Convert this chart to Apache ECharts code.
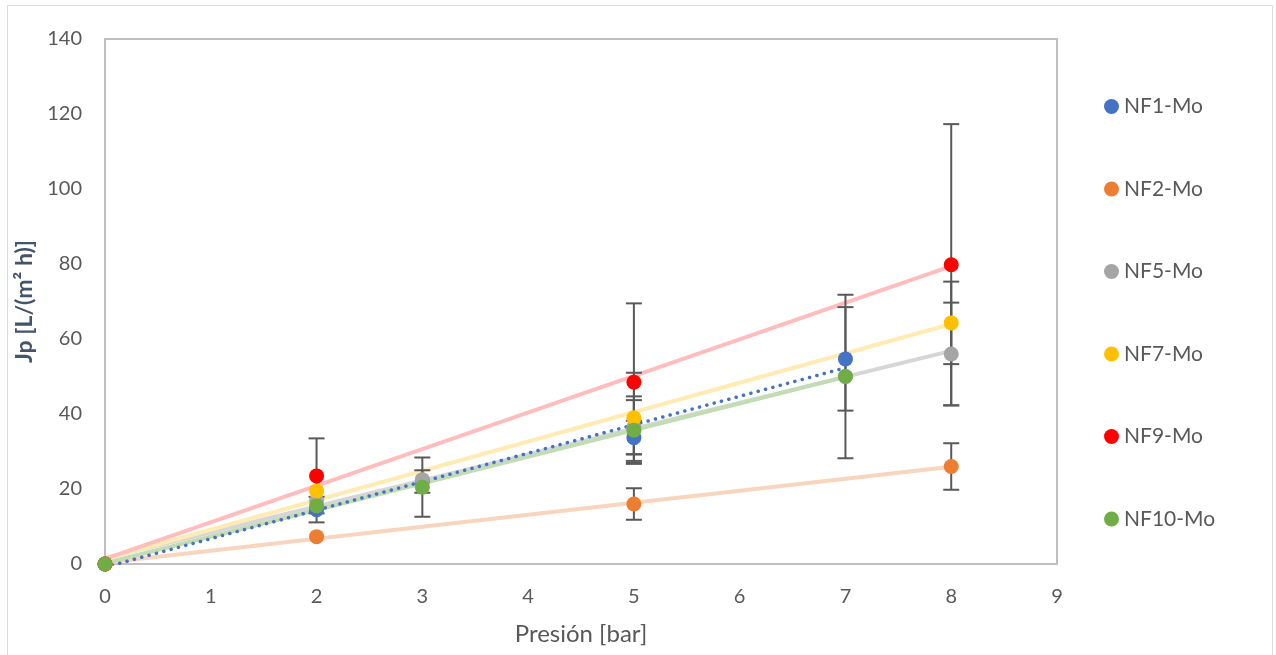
<!DOCTYPE html>
<html>
<head>
<meta charset="utf-8">
<script src="https://cdn.jsdelivr.net/npm/echarts@6/dist/echarts.min.js"></script>
<style>
  html, body { margin: 0; padding: 0; background: #fff; }
  #chart { width: 1276px; height: 655px; }
</style>
</head>
<body>
<div id="chart"></div>
<script>
// presión (bar) por muestra
const xNF1 = [0, 2, 3, 5, 7];
const xNF2 = [0, 2, 5, 8];
const xNF5 = [0, 2, 3, 5, 7, 8];
const xNF7 = [0, 2, 5, 8];
const xNF9 = [0, 2, 5, 8];
const xNF10 = [0, 2, 3, 5, 7];

// Jp [L/(m2 h)]
const yNF1 = [0, 14.5, 22, 33.7, 54.7];
const yNF2 = [0, 7.3, 16, 26];
const yNF5 = [0, 17, 22.5, 36.5, 50, 56];
const yNF7 = [0, 19.5, 39, 64.3];
const yNF9 = [0, 23.5, 48.5, 79.8];
const yNF10 = [0, 15.5, 20.5, 35.7, 50];

// desviación (barras de error)
const eNF1 = [0, 3.4, 3, 4.5, 13.8];
const eNF2 = [0, 0, 4.2, 6.2];
const eNF5 = [0, 0, 0, 7.2, 0, 13.7];
const eNF7 = [0, 0, 12, 11];
const eNF9 = [0, 10, 21, 37.5];
const eNF10 = [0, 0, 7.9, 9, 21.8];

const names = ['NF1-Mo', 'NF2-Mo', 'NF5-Mo', 'NF7-Mo', 'NF9-Mo', 'NF10-Mo'];
const colors = ['#4472C4', '#ED7D31', '#A5A5A5', '#FFC000', '#FF0000', '#70AD47'];
const trendColors = ['#4472C4', '#F8D5BE', '#D6D6D6', '#FFEBB3', '#FFBDBD', '#C3DCB4'];

const xs = [xNF1, xNF2, xNF5, xNF7, xNF9, xNF10];
const ys = [yNF1, yNF2, yNF5, yNF7, yNF9, yNF10];
const es = [eNF1, eNF2, eNF5, eNF7, eNF9, eNF10];

const FONT = 'Lato';

// línea de tendencia lineal (mínimos cuadrados)
function fit(x, y) {
  const n = x.length;
  const mx = x.reduce((a, b) => a + b, 0) / n;
  const my = y.reduce((a, b) => a + b, 0) / n;
  let sxx = 0, sxy = 0;
  for (let i = 0; i < n; i++) {
    sxx += (x[i] - mx) * (x[i] - mx);
    sxy += (x[i] - mx) * (y[i] - my);
  }
  const b = sxy / sxx;
  return {a: my - b * mx, b: b};
}

const trendSeries = [];
const errSeries = [];
const pointSeries = [];

for (let k = 0; k < names.length; k++) {
  const f = fit(xs[k], ys[k]);
  const x0 = Math.min(...xs[k]), x1 = Math.max(...xs[k]);
  trendSeries.push({
    name: names[k] + ' tendencia',
    type: 'line',
    data: [[x0, f.a + f.b * x0], [x1, f.a + f.b * x1]],
    showSymbol: false,
    silent: true,
    z: k === 0 ? 2 : 1,
    lineStyle: k === 0
      ? {color: trendColors[k], width: 3.5, type: [0.1, 7.5], cap: 'round'}
      : {color: trendColors[k], width: 4}
  });

  const errData = [];
  for (let i = 0; i < xs[k].length; i++) {
    if (es[k][i] > 0) {
      errData.push([xs[k][i], ys[k][i] - es[k][i], ys[k][i] + es[k][i]]);
    }
  }
  errSeries.push({
    name: names[k] + ' error',
    type: 'custom',
    silent: true,
    z: 2,
    data: errData,
    renderItem: function (params, api) {
      const lo = api.coord([api.value(0), api.value(1)]);
      const hi = api.coord([api.value(0), api.value(2)]);
      const w = 8;
      const style = {stroke: '#595959', lineWidth: 2};
      return {
        type: 'group',
        children: [
          {type: 'line', shape: {x1: lo[0], y1: lo[1], x2: hi[0], y2: hi[1]}, style: style},
          {type: 'line', shape: {x1: lo[0] - w, y1: lo[1], x2: lo[0] + w, y2: lo[1]}, style: style},
          {type: 'line', shape: {x1: hi[0] - w, y1: hi[1], x2: hi[0] + w, y2: hi[1]}, style: style}
        ]
      };
    }
  });

  pointSeries.push({
    name: names[k],
    type: 'scatter',
    symbol: 'circle',
    symbolSize: 15,
    z: 3,
    itemStyle: {color: colors[k], opacity: 1},
    data: xs[k].map((x, i) => [x, ys[k][i]])
  });
}

const chart = echarts.init(document.getElementById('chart'));
chart.setOption({
  animation: false,
  color: colors,
  textStyle: {fontFamily: FONT},
  graphic: [{
    type: 'rect',
    shape: {x: 7.5, y: 5.5, width: 1265, height: 660},
    style: {fill: 'none', stroke: '#D9D9D9', lineWidth: 1},
    silent: true
  }],
  grid: {
    left: 105, right: 219, top: 39, bottom: 91,
    show: true, borderColor: '#BFBFBF', borderWidth: 2
  },
  legend: {
    data: names,
    orient: 'vertical',
    left: 1099, top: 91,
    itemWidth: 15, itemHeight: 15, itemGap: 61.5,
    icon: 'circle',
    itemStyle: {opacity: 1},
    textStyle: {fontFamily: FONT, fontSize: 21, color: '#595959'}
  },
  xAxis: {
    type: 'value',
    min: 0, max: 9, interval: 1,
    name: 'Presión [bar]',
    nameLocation: 'middle',
    nameGap: 58,
    nameTextStyle: {fontFamily: FONT, fontSize: 24, color: '#595959'},
    axisLine: {show: true, lineStyle: {color: '#BFBFBF', width: 2}},
    axisTick: {show: false},
    splitLine: {show: false},
    axisLabel: {fontFamily: FONT, fontSize: 20, color: '#595959', margin: 23}
  },
  yAxis: {
    type: 'value',
    min: 0, max: 140, interval: 20,
    name: 'Jp [L/(m² h)]',
    nameLocation: 'middle',
    nameGap: 64,
    nameTextStyle: {fontFamily: FONT, fontSize: 23, fontWeight: 'bold', color: '#44546A'},
    axisLine: {show: true, lineStyle: {color: '#BFBFBF', width: 2}},
    axisTick: {show: false},
    splitLine: {show: false},
    axisLabel: {fontFamily: FONT, fontSize: 20, color: '#595959', margin: 23}
  },
  series: [...trendSeries, ...errSeries, ...pointSeries]
});
</script>
</body>
</html>
